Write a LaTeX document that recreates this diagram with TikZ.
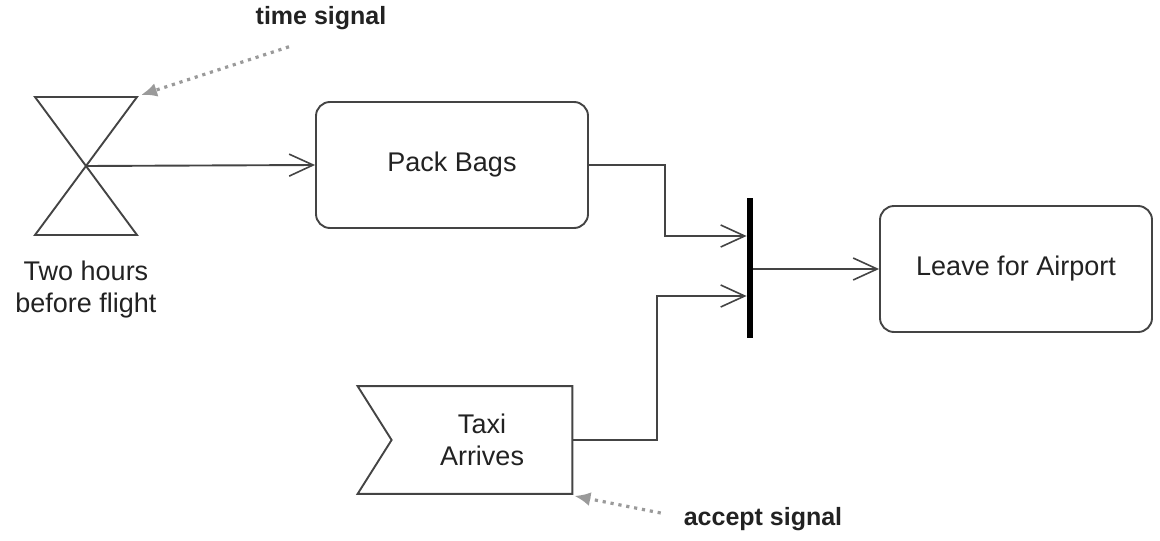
\documentclass[tikz,border=0pt]{standalone}
\usepackage{fontspec}
\setmainfont{Liberation Sans}
\usetikzlibrary{arrows.meta, positioning, calc}
\definecolor{inkgray}{HTML}{444444}
\definecolor{textgray}{HTML}{222222}
\definecolor{notegray}{HTML}{9A9A9A}

\begin{document}
\begin{tikzpicture}[
        x=0.5pt, y=-0.5pt,
        line/.style={draw=inkgray, line width=0.95pt},
        flow/.style={
            line,
            -{Straight Barb[length=12pt, width=11pt, line width=0.8pt]}
        },
        action/.style={
            rectangle,
            rounded corners=7pt,
            line,
            minimum width=136pt,
            minimum height=63pt,
            text=textgray,
            font=\fontsize{13.5}{16}\selectfont,
            align=center
        },
        note/.style={
            draw=notegray,
            line width=1.6pt,
            dash pattern=on 1.6pt off 2.4pt,
            -{Latex[length=8pt, width=7pt]}
        },
        notetext/.style={text=textgray, font=\bfseries\fontsize{12.5}{15}\selectfont}
    ]
    \useasboundingbox (0,0) rectangle (1160,540);

    % Time signal (hourglass)
    \coordinate (timer) at (86,166);
    \draw[line] ([shift={(-25.5pt,34.5pt)}]timer) coordinate (timertl) -- ++(51pt,0) coordinate (timertr)
        -- ([shift={(-25.5pt,-34.5pt)}]timer) -- ++(51pt,0) -- cycle;
    \node[text=textgray, font=\fontsize{13.5}{16}\selectfont, align=center] (timerlabel) at (86,290) {Two hours\\before flight};

    % Actions
    \node[action] (pack) at (452,165) {Pack Bags};
    \node[action] (leave) at (1016,269) {Leave for Airport};

    % Accept signal
    \node[text=textgray, font=\fontsize{13.5}{16}\selectfont, align=center,
          minimum width=90pt, minimum height=53.5pt, inner sep=0pt] (taxi) at (482,440) {Taxi\\Arrives};
    \draw[line] ([xshift=-17pt]taxi.north west) -- (taxi.north east) -- (taxi.south east)
        -- ([xshift=-17pt]taxi.south west) -- (taxi.west) -- cycle;

    % Join bar
    \node[rectangle, fill=black, minimum width=3pt, minimum height=70pt, inner sep=0pt] (join) at (750,268) {};
    \coordinate (joinA) at ([yshift=16pt]join.west);
    \coordinate (joinB) at ([yshift=-14pt]join.west);

    % Flows
    \draw[flow] (timer) -- (pack.west);
    \draw[flow] (pack.east) -| ([xshift=-41pt]joinA) -- (joinA);
    \draw[flow] (taxi.east) -| ([xshift=-45pt]joinB) -- (joinB);
    \draw[flow] (join.east |- leave.west) -- (leave.west);

    % Annotations
    \node[notetext] (tsig) at (321,18) {time signal};
    \node[notetext] (asig) at (763,519) {accept signal};
    \draw[note] ([xshift=-16pt, yshift=-5pt]tsig.south) -- ([shift={(2pt,1pt)}]timertr);
    \draw[note] ([xshift=-8pt, yshift=3pt]asig.west) -- ([shift={(1pt,-1pt)}]taxi.south east);

\end{tikzpicture}
\end{document}
